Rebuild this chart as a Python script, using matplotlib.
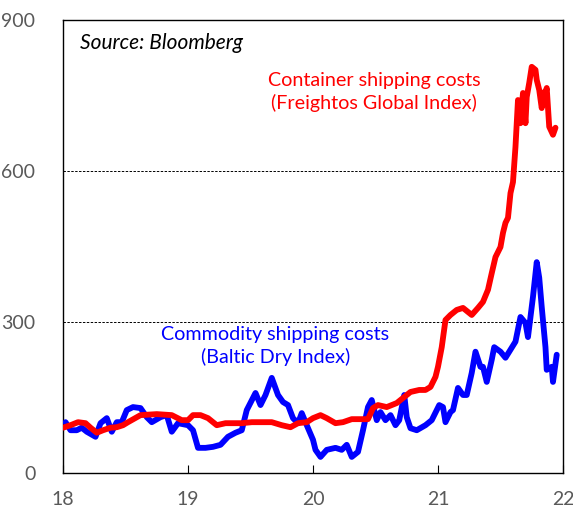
import numpy as np
import matplotlib.pyplot as plt

# ============================================================================
# DADOS (anos em fração, 18 = 2018)
# ============================================================================

baltic_x = [18.02, 18.06, 18.11, 18.15, 18.19, 18.26, 18.30, 18.35, 18.39, 18.43,
            18.47, 18.51, 18.56, 18.62, 18.67, 18.71, 18.78, 18.83, 18.87, 18.92,
            19.00, 19.04, 19.08, 19.14, 19.20, 19.26, 19.32, 19.38, 19.43, 19.47,
            19.54, 19.58, 19.62, 19.67, 19.72, 19.76, 19.80, 19.84, 19.88, 19.91,
            19.95, 20.00, 20.02, 20.06, 20.11, 20.18, 20.23, 20.27, 20.31, 20.36,
            20.40, 20.44, 20.47, 20.51, 20.54, 20.58, 20.62, 20.66, 20.69, 20.73,
            20.75, 20.78, 20.83, 20.90, 20.95, 21.01, 21.04, 21.06, 21.10, 21.12,
            21.16, 21.20, 21.23, 21.27, 21.30, 21.34, 21.36, 21.39, 21.43, 21.45,
            21.50, 21.54, 21.58, 21.62, 21.66, 21.70, 21.72, 21.74, 21.76, 21.79,
            21.81, 21.83, 21.86, 21.87, 21.91, 21.92, 21.95]
baltic_y = [101, 85, 85, 90, 82, 72, 99, 109, 82, 101,
            101, 125, 131, 129, 111, 101, 111, 115, 82, 99,
            95, 85, 50, 50, 52, 56, 72, 80, 85, 125,
            159, 135, 155, 189, 155, 141, 135, 109, 99, 119,
            95, 66, 46, 32, 46, 50, 46, 56, 32, 42,
            85, 131, 145, 105, 121, 105, 115, 95, 105, 155,
            111, 89, 85, 95, 105, 135, 131, 101, 121, 125,
            169, 155, 155, 199, 241, 211, 211, 181, 225, 250,
            241, 229, 245, 261, 310, 298, 270, 310, 350, 419,
            388, 330, 250, 205, 211, 181, 235]

freight_x = [18.00, 18.06, 18.12, 18.18, 18.22, 18.27, 18.32, 18.38, 18.43, 18.48,
             18.52, 18.62, 18.75, 18.87, 18.95, 19.00, 19.04, 19.10, 19.16, 19.23,
             19.30, 19.37, 19.43, 19.51, 19.59, 19.67, 19.75, 19.82, 19.88, 19.95,
             20.00, 20.06, 20.11, 20.18, 20.24, 20.31, 20.38, 20.44, 20.48, 20.52,
             20.59, 20.67, 20.72, 20.78, 20.85, 20.90, 20.94, 20.98, 21.00, 21.03,
             21.06, 21.10, 21.15, 21.20, 21.27, 21.32, 21.36, 21.40, 21.43, 21.46,
             21.50, 21.52, 21.54, 21.56, 21.58, 21.60, 21.62, 21.64, 21.66, 21.68,
             21.70, 21.71, 21.73, 21.75, 21.78, 21.79, 21.81, 21.83, 21.85, 21.86,
             21.87, 21.89, 21.92, 21.94]
freight_y = [90, 95, 101, 99, 90, 80, 85, 90, 91, 95,
             101, 115, 117, 115, 105, 105, 115, 115, 109, 95,
             99, 99, 99, 101, 101, 101, 95, 91, 99, 101,
             109, 115, 109, 99, 101, 107, 107, 107, 129, 135,
             131, 139, 149, 161, 165, 165, 171, 191, 211, 250,
             304, 314, 324, 328, 314, 328, 340, 364, 397, 429,
             449, 477, 497, 507, 556, 578, 648, 741, 695, 755,
             695, 747, 775, 807, 801, 781, 761, 725, 757, 755,
             765, 688, 672, 686]

# ============================================================================
# GRÁFICO
# ============================================================================

plt.rcParams['font.family'] = ['Lato', 'DejaVu Sans']

fig = plt.figure(figsize=(5.73, 5.09), dpi=100)
ax = fig.add_axes([0.110, 0.0707, 0.8725, 0.89])

ax.plot(baltic_x, baltic_y, color='#0000FF', linewidth=4.2, solid_joinstyle='round',
        solid_capstyle='round', zorder=3)
ax.plot(freight_x, freight_y, color='#FF0000', linewidth=4.2, solid_joinstyle='round',
        solid_capstyle='round', zorder=4)

for lvl in (300, 600):
    ax.axhline(lvl, color='black', linestyle=(0, (2.5, 1.5)), linewidth=0.7, zorder=1)

ax.set_xlim(18, 22)
ax.set_ylim(0, 900)
ax.set_xticks([18, 19, 20, 21, 22])
ax.set_xticklabels(['18', '19', '20', '21', '22'])
ax.set_yticks([0, 300, 600, 900])

ax.tick_params(axis='x', direction='in', length=6, width=0.8, pad=13,
               labelsize=14, labelcolor='#595959')
ax.tick_params(axis='y', length=0, pad=20, labelsize=14, labelcolor='#595959')

for s in ax.spines.values():
    s.set_linewidth(1.0)
    s.set_color('black')

ax.text(18.135, 855, 'Source: Bloomberg', fontsize=15, style='italic', color='black',
        ha='left', va='center')
ax.text(20.49, 757, 'Container shipping costs\n(Freightos Global Index)', fontsize=14.2,
        color='#FF0000', ha='center', va='center', linespacing=1.3)
ax.text(19.70, 252, 'Commodity shipping costs\n(Baltic Dry Index)', fontsize=14.2,
        color='#0000FF', ha='center', va='center', linespacing=1.3)

plt.savefig('out.png', dpi=100, facecolor='white')
plt.close()
